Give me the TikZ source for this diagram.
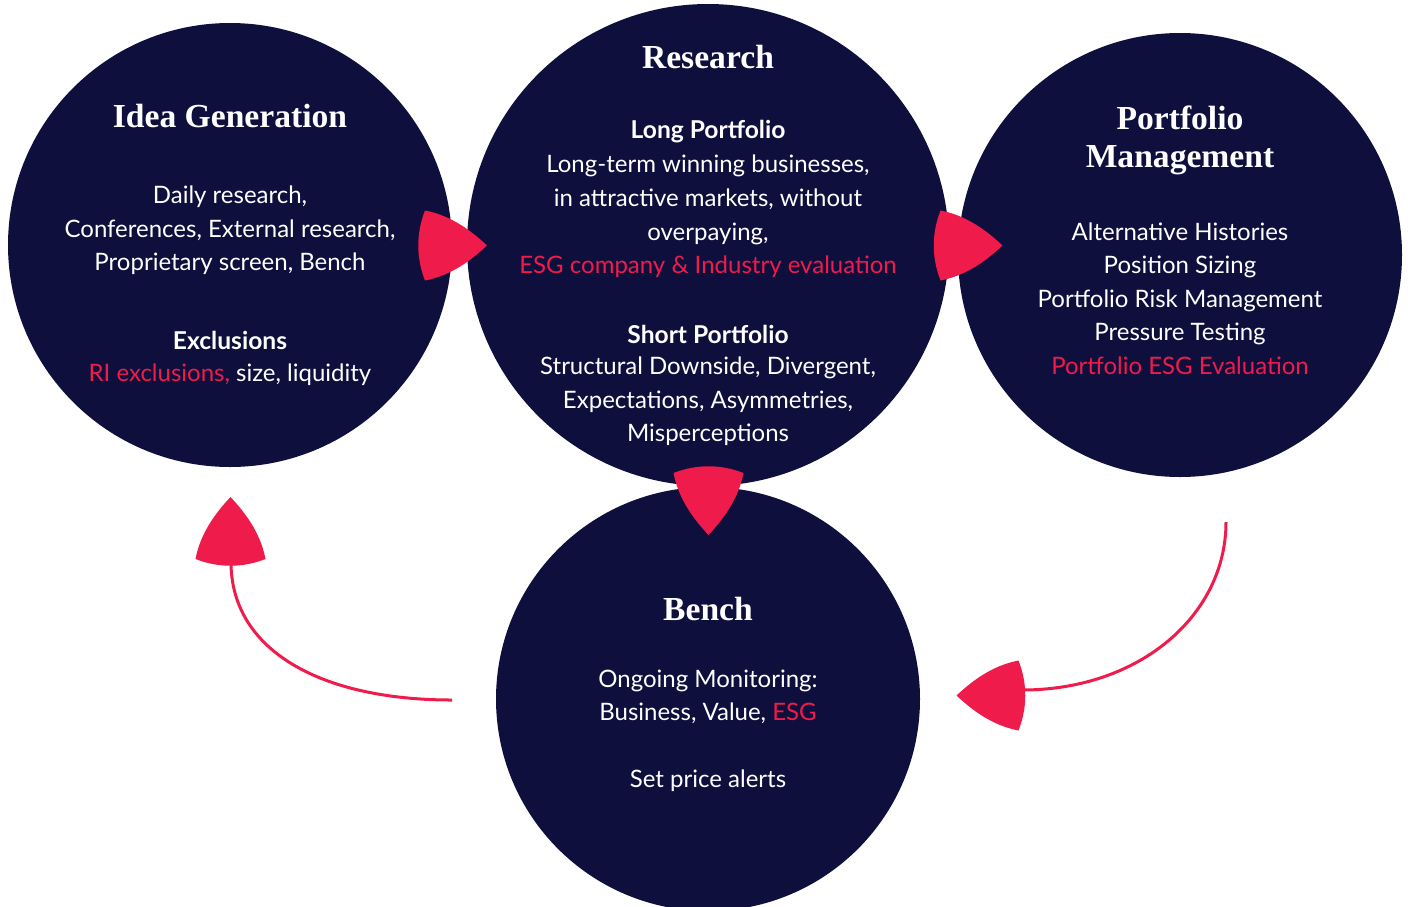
\documentclass[tikz,border=0pt]{standalone}
\usepackage{fontspec}
\setmainfont{Liberation Serif}
\setsansfont{Lato}
\definecolor{navy}{HTML}{0E0F3C}
\definecolor{accent}{HTML}{EE1B4B}
\tikzset{
	stage/.style={circle, fill=navy, draw=none, inner sep=0pt, outer sep=0pt},
	heading/.style={font=\bfseries\fontsize{16.8}{19.3}\selectfont, text=white, align=center},
	body/.style={font=\sffamily\fontsize{12}{16.8}\selectfont, text=white, align=center},
	subhead/.style={font=\sffamily\bfseries\fontsize{12.3}{16.8}\selectfont, text=white, align=center},
	flow/.style={draw=accent, line width=1.5pt},
	tri/.pic={
		\fill[accent] (-31,-35) .. controls (-40,-12) and (-40,12) .. (-31,35)
			.. controls (-5,30) and (15,15) .. (31,0)
			.. controls (15,-15) and (-5,-30) .. (-31,-35) -- cycle;
	}
}
\begin{document}
\begin{tikzpicture}[x=0.5pt, y=-0.5pt]
	\useasboundingbox (0,0) rectangle (1408,906);
	% stages
	\node[stage, minimum size=222pt](idea) at (230,245){};
	\node[stage, minimum size=241pt](research) at (708,245){};
	\node[stage, minimum size=222pt](portfolio) at (1180,255){};
	\node[stage, minimum size=212pt](bench) at (708,699){};

	% idea generation
	\node[heading](idea-t) at (230,116){Idea Generation};
	\node[body](idea-b) at (230,230.5){Daily research,\\Conferences, External research,\\Proprietary screen, Bench};
	\node[subhead](idea-s) at (230,340){Exclusions};
	\node[body](idea-x) at (230,375){\textcolor{accent}{RI exclusions,} size, liquidity};

	% research
	\node[heading](res-t) at (708,57){Research};
	\node[subhead](res-l) at (708,132){Long Portfolio};
	\node[body](res-lb) at (708,216.5){Long-term winning businesses,\\in attractive markets, without\\overpaying,\\\textcolor{accent}{ESG company \& Industry evaluation}};
	\node[subhead](res-s) at (708,334){Short Portfolio};
	\node[body](res-sb) at (708,401.5){Structural Downside, Divergent,\\Expectations, Asymmetries,\\Misperceptions};

	% portfolio management
	\node[heading](pm-t) at (1180,140.5){Portfolio\\Management};
	\node[body](pm-b) at (1180,298.5){Alternative Histories\\Position Sizing\\Portfolio Risk Management\\Pressure Testing\\\textcolor{accent}{Portfolio ESG Evaluation}};

	% bench
	\node[heading](bench-t) at (708,609){Bench};
	\node[body](bench-b) at (708,697){Ongoing Monitoring:\\Business, Value, \textcolor{accent}{ESG}};
	\node[body](bench-a) at (708,781){Set price alerts};

	% return loops
	\coordinate(b-out) at (452,700);
	\coordinate(idea-in) at (231,562);
	\coordinate(pm-out) at (1226,522);
	\coordinate(b-in) at (1022,690);
	\draw[flow] (b-out) .. controls (320,700) and (231,650) .. (idea-in);
	\draw[flow] (pm-out) .. controls (1226,615) and (1140,690) .. (b-in);

	% arrow heads
	\pic at (456,245.5) {tri};
	\pic at (971.5,245.5) {tri};
	\pic[rotate=-90] at (708.5,504) {tri};
	\pic[rotate=90] at (230.5,528) {tri};
	\pic[rotate=180] at (987.5,695.5) {tri};
\end{tikzpicture}
\end{document}
